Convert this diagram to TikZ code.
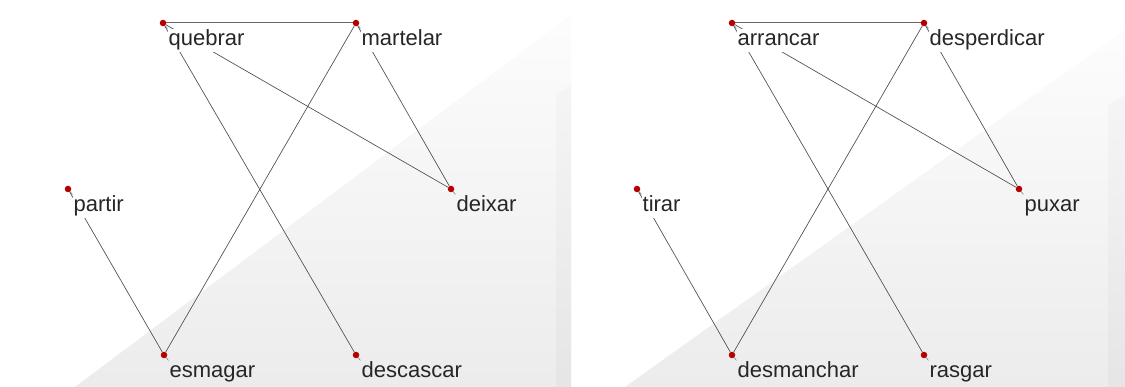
\documentclass[tikz,border=0pt]{standalone}
\usepackage{fontspec}
\setmainfont{Liberation Sans}
\usetikzlibrary{positioning}
\pgfdeclarelayer{bg}
\pgfdeclarelayer{links}
\pgfsetlayers{bg,links,main}

\begin{document}
\begin{tikzpicture}[
    x=1pt, y=-1pt,
    dot/.style={circle, fill=red!70!black, inner sep=0pt, minimum size=6.5pt},
    word/.style={font=\fontsize{22}{26}\selectfont, inner sep=1pt, text height=16pt, text depth=5pt, text=black!85},
    cover/.style={fill=white},
    link/.style={draw=black!70, line width=0.65pt},
    pinline/.style={draw=black!50, line width=0.6pt}
]
\useasboundingbox (0,0) rectangle (1125,387);

% backgrounds
\begin{pgfonlayer}{bg}
\fill[white] (0,0) rectangle (1125,387);
\shade[top color=gray!2, bottom color=gray!15] (75,387) -- (571,15) -- (571,387) -- cycle;
\shade[top color=gray!8, bottom color=gray!20] (556,387) -- (556,95) -- (571,85) -- (571,387) -- cycle;
\shade[top color=gray!2, bottom color=gray!15] (625,387) -- (1125,30) -- (1125,387) -- cycle;
\shade[top color=gray!8, bottom color=gray!20] (1108,387) -- (1108,105) -- (1125,95) -- (1125,387) -- cycle;
\end{pgfonlayer}

% left graph
\node[dot] (quebrar) at (163,23) {};
\node[dot] (martelar) at (356,23) {};
\node[dot] (partir) at (68,189) {};
\node[dot] (deixar) at (451,189) {};
\node[dot] (esmagar) at (164,355) {};
\node[dot] (descascar) at (356,355) {};
\node[word, cover, below right=3pt and 2pt of quebrar] (quebrar-w) {quebrar};
\node[word, cover, below right=3pt and 2pt of martelar] (martelar-w) {martelar};
\node[word, cover, below right=3pt and 2pt of partir] (partir-w) {partir};
\node[word, below right=3pt and 2pt of deixar] (deixar-w) {deixar};
\node[word, below right=3pt and 2pt of esmagar] (esmagar-w) {esmagar};
\node[word, below right=3pt and 2pt of descascar] (descascar-w) {descascar};

% right graph
\node[dot] (arrancar) at (732,23) {};
\node[dot] (desperdicar) at (924,23) {};
\node[dot] (tirar) at (637,189) {};
\node[dot] (puxar) at (1019,189) {};
\node[dot] (desmanchar) at (732,355) {};
\node[dot] (rasgar) at (924,355) {};
\node[word, cover, below right=3pt and 2pt of arrancar] (arrancar-w) {arrancar};
\node[word, cover, below right=3pt and 2pt of desperdicar] (desperdicar-w) {desperdicar};
\node[word, cover, below right=3pt and 2pt of tirar] (tirar-w) {tirar};
\node[word, below right=3pt and 2pt of puxar] (puxar-w) {puxar};
\node[word, below right=3pt and 2pt of desmanchar] (desmanchar-w) {desmanchar};
\node[word, below right=3pt and 2pt of rasgar] (rasgar-w) {rasgar};

\begin{pgfonlayer}{links}
\draw[link, line width=1pt, draw=black!60] (quebrar) -- (martelar);
\draw[link] (quebrar) -- (descascar);
\draw[link] (quebrar) -- (deixar);
\draw[link] (martelar) -- (esmagar);
\draw[link] (martelar) -- (deixar);
\draw[link] (partir) -- (esmagar);
\draw[link, line width=1pt, draw=black!60] (arrancar) -- (desperdicar);
\draw[link] (arrancar) -- (rasgar);
\draw[link] (arrancar) -- (puxar);
\draw[link] (desperdicar) -- (desmanchar);
\draw[link] (desperdicar) -- (puxar);
\draw[link] (tirar) -- (desmanchar);
% little pins to the words
\foreach \n in {quebrar,martelar,partir,deixar,esmagar,descascar,arrancar,desperdicar,tirar,puxar,desmanchar,rasgar}
    \draw[pinline] (\n.center) -- (\n-w.north west);
\end{pgfonlayer}

\end{tikzpicture}
\end{document}
